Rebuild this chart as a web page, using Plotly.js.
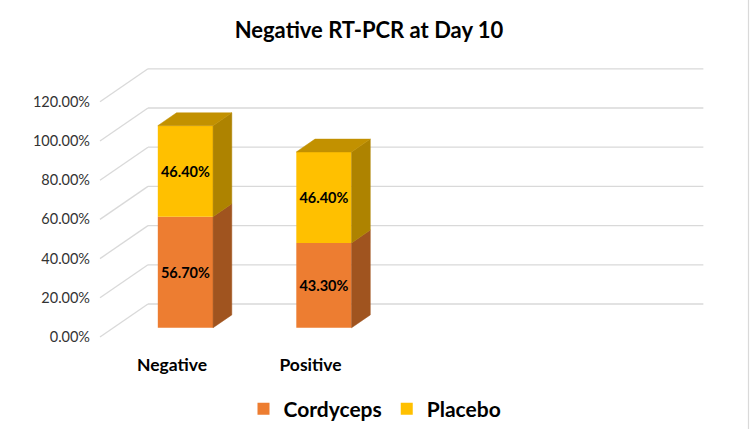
<!DOCTYPE html>
<html>
<head>
<meta charset="utf-8">
<script src="https://cdn.plot.ly/plotly-3.0.1.min.js"></script>
<style>html,body{margin:0;padding:0;background:#fff;}#chart{width:750px;height:429px;}</style>
</head>
<body>
<div id="chart"></div>
<script>
// ---- data ----
const categories = ['Negative', 'Positive'];
const cordyceps = [56.7, 43.3];
const placebo = [46.4, 46.4];
const seriesNames = ['Cordyceps', 'Placebo'];
const yTicks = [0, 20, 40, 60, 80, 100, 120];

// ---- styling / geometry (not data) ----
const FONT = 'Lato, "Open Sans", sans-serif';
const frontColors = ['#ED7D31', '#FFC000'];
const sideColors = ['#A0541F', '#AE8300'];
const topColors = ['#C0682A', '#C29100'];
const W = 750, H = 429;
const M = {l: 95, r: 30, t: 50, b: 84};
const PX_PER_CAT = 138.5, X_ZERO_PX = 172;
const PX_PER_PCT = 1.96, Y_ZERO_PX = 337;
const DX = 48 / PX_PER_CAT;          // depth shift in x units
const DY = 33 / PX_PER_PCT;          // depth shift in y units
const DEPTH_FRONT = 0.28, DEPTH_BACK = 0.67;
const BAR_W = 0.399;
const FLOOR_START = -0.52, FLOOR_END = 3.49;

const xRange = [(M.l - X_ZERO_PX) / PX_PER_CAT, (W - M.r - X_ZERO_PX) / PX_PER_CAT];
const yRange = [(Y_ZERO_PX - (H - M.b)) / PX_PER_PCT, (Y_ZERO_PX - M.t) / PX_PER_PCT];

const series = [cordyceps, placebo];
const traces = [];
const faces = [];
const xs = categories.map((c, i) => i + DEPTH_FRONT * DX);

series.forEach((vals, s) => {
  const bases = vals.map((v, i) => {
    let b = 0;
    for (let k = 0; k < s; k++) b += series[k][i];
    return b;
  });
  traces.push({
    type: 'bar',
    name: seriesNames[s],
    x: xs,
    y: vals,
    base: bases.map(b => b + DEPTH_FRONT * DY),
    width: categories.map(() => BAR_W),
    marker: {color: frontColors[s], line: {width: 0}},
    text: vals.map(v => v.toFixed(2) + '%'),
    textposition: 'inside',
    insidetextanchor: 'middle',
    constraintext: 'none',
    textangle: 0,
    textfont: {family: FONT, size: 14.5, color: '#000', weight: 'bold'},
    hoverinfo: 'skip'
  });
  vals.forEach((v, i) => {
    const xr = i + BAR_W / 2;
    const xl = i - BAR_W / 2;
    const b = bases[i], t = bases[i] + v;
    const fx = DEPTH_FRONT * DX, fy = DEPTH_FRONT * DY;
    const bx = DEPTH_BACK * DX, by = DEPTH_BACK * DY;
    // side face
    faces.push({
      type: 'scatter', mode: 'lines', fill: 'toself', showlegend: false, hoverinfo: 'skip',
      x: [xr + fx, xr + fx, xr + bx, xr + bx, xr + fx],
      y: [b + fy, t + fy, t + by, b + by, b + fy],
      fillcolor: sideColors[s], line: {width: 0.5, color: sideColors[s]}
    });
    // top face only for top segment
    if (s === series.length - 1) {
      faces.push({
        type: 'scatter', mode: 'lines', fill: 'toself', showlegend: false, hoverinfo: 'skip',
        x: [xl + fx, xr + fx, xr + bx, xl + bx, xl + fx],
        y: [t + fy, t + fy, t + by, t + by, t + fy],
        fillcolor: topColors[s], line: {width: 0.5, color: topColors[s]}
      });
    }
  });
});

// gridlines (wall + diagonals)
const shapes = [];
yTicks.forEach(v => {
  shapes.push({type: 'line', layer: 'below', xref: 'x', yref: 'y',
    x0: FLOOR_START, y0: v, x1: FLOOR_START + DX, y1: v + DY,
    line: {color: '#D9D9D9', width: 1.3}});
  shapes.push({type: 'line', layer: 'below', xref: 'x', yref: 'y',
    x0: FLOOR_START + DX, y0: v + DY, x1: FLOOR_END + DX, y1: v + DY,
    line: {color: '#D9D9D9', width: 1.3}});
});
// chart border on the right edge
const plotW = W - M.l - M.r, plotH = H - M.t - M.b;
shapes.push({type: 'line', xref: 'paper', yref: 'paper',
  x0: (W - 1.5 - M.l) / plotW, x1: (W - 1.5 - M.l) / plotW,
  y0: -M.b / plotH, y1: 1 + M.t / plotH,
  line: {color: '#D9D9D9', width: 1.2}});

const layout = {
  width: W, height: H,
  margin: M,
  paper_bgcolor: '#fff', plot_bgcolor: 'rgba(0,0,0,0)',
  barmode: 'overlay',
  title: {text: 'Negative RT-PCR at Day 10', font: {family: FONT, size: 22, color: '#000', weight: 'bold'},
    x: 0.492, xanchor: 'center', y: 1 - 30 / H, yanchor: 'middle'},
  xaxis: {range: xRange, showgrid: false, zeroline: false, showline: false, ticks: '',
    tickvals: categories.map((c, i) => i), ticktext: categories,
    tickfont: {family: FONT, size: 17.5, color: '#000', weight: 'bold'}, ticklabelstandoff: 7, fixedrange: true},
  yaxis: {range: yRange, showgrid: false, zeroline: false, showline: false, ticks: '',
    tickvals: yTicks, ticktext: yTicks.map(v => v.toFixed(2) + '%'),
    tickfont: {family: FONT, size: 14.5, color: '#333333'}, ticklabelstandoff: 4, fixedrange: true},
  shapes: shapes,
  showlegend: true,
  legend: {orientation: 'h', xref: 'container', yref: 'container', x: 0.5, xanchor: 'center',
    y: 1 - 409 / H, yanchor: 'middle', font: {family: FONT, size: 21, color: '#000', weight: 'bold'},
    traceorder: 'normal', itemwidth: 30}
};

Plotly.newPlot('chart', traces.concat(faces), layout, {displayModeBar: false, staticPlot: true});
</script>
</body>
</html>
